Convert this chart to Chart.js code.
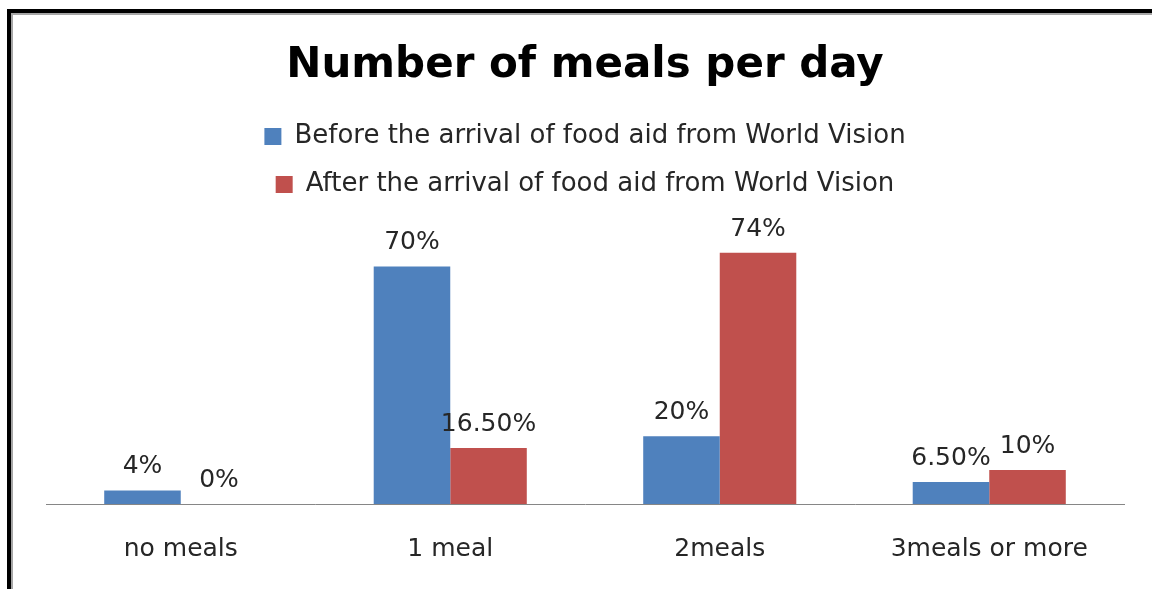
<!DOCTYPE html>
<html>
<head>
<meta charset="utf-8">
<title>Number of meals per day</title>
<script src="https://cdn.jsdelivr.net/npm/chart.js@4"></script>
<style>
  html, body { margin: 0; padding: 0; background: #fff; overflow: hidden; }
  #wrap { position: relative; width: 1152px; height: 589px; }
  #chart { position: absolute; left: 0; top: 0; }
  /* frame of the pasted chart: black outer line, grey inner line */
  .frame-outer { position: absolute; left: 7px; top: 9px; width: 1200px; height: 700px;
    border-top: 4px solid #000; border-left: 4px solid #000; pointer-events: none; }
  .frame-inner { position: absolute; left: 11px; top: 13px; width: 1200px; height: 700px;
    border-top: 2px solid #a6a6a6; border-left: 2px solid #a6a6a6; pointer-events: none; }
</style>
</head>
<body>
<div id="wrap">
  <canvas id="chart" width="1152" height="589"></canvas>
  <div class="frame-outer"></div>
  <div class="frame-inner"></div>
</div>
<script>
// chart data
const categories = ['no meals', '1 meal', '2meals', '3meals or more'];
const beforeAid = [4, 70, 20, 6.5];
const afterAid = [0, 16.5, 74, 10];
const seriesNames = [
  'Before the arrival of food aid from World Vision',
  'After the arrival of food aid from World Vision'
];

const FONT = "'DejaVu Sans', sans-serif";

function pct(v) {
  return Number.isInteger(v) ? v + '%' : v.toFixed(2) + '%';
}

// value labels above each bar
const valueLabels = {
  id: 'valueLabels',
  afterDatasetsDraw(chart) {
    const ctx = chart.ctx;
    ctx.save();
    ctx.font = '25px ' + FONT;
    ctx.fillStyle = '#262626';
    ctx.textAlign = 'center';
    ctx.textBaseline = 'alphabetic';
    chart.data.datasets.forEach((ds, i) => {
      chart.getDatasetMeta(i).data.forEach((bar, j) => {
        ctx.fillText(pct(ds.data[j]), bar.x, bar.y - 17);
      });
    });
    ctx.restore();
  }
};

new Chart(document.getElementById('chart'), {
  type: 'bar',
  data: {
    labels: categories,
    datasets: [
      { label: seriesNames[0], data: beforeAid, backgroundColor: '#4f81bd' },
      { label: seriesNames[1], data: afterAid, backgroundColor: '#c0504d' }
    ]
  },
  options: {
    responsive: false,
    animation: false,
    layout: { padding: { left: 46, right: 28, top: 0, bottom: 3 } },
    datasets: { bar: { categoryPercentage: 0.568, barPercentage: 1.0 } },
    plugins: {
      title: {
        display: true,
        text: 'Number of meals per day',
        color: '#000',
        font: { family: FONT, size: 42, weight: 'bold' },
        padding: { top: 41, bottom: 10 }
      },
      legend: {
        display: true,
        position: 'top',
        labels: {
          color: '#262626',
          font: { family: FONT, size: 26 },
          boxWidth: 17,
          boxHeight: 17,
          padding: 22
        }
      },
      tooltip: { enabled: false }
    },
    scales: {
      x: {
        grid: { display: false },
        border: { display: true, color: '#868686', width: 1 },
        ticks: { color: '#262626', font: { family: FONT, size: 25 }, padding: 22 }
      },
      y: {
        display: false,
        min: 0,
        max: 87.4
      }
    }
  },
  plugins: [valueLabels]
});
</script>
</body>
</html>
